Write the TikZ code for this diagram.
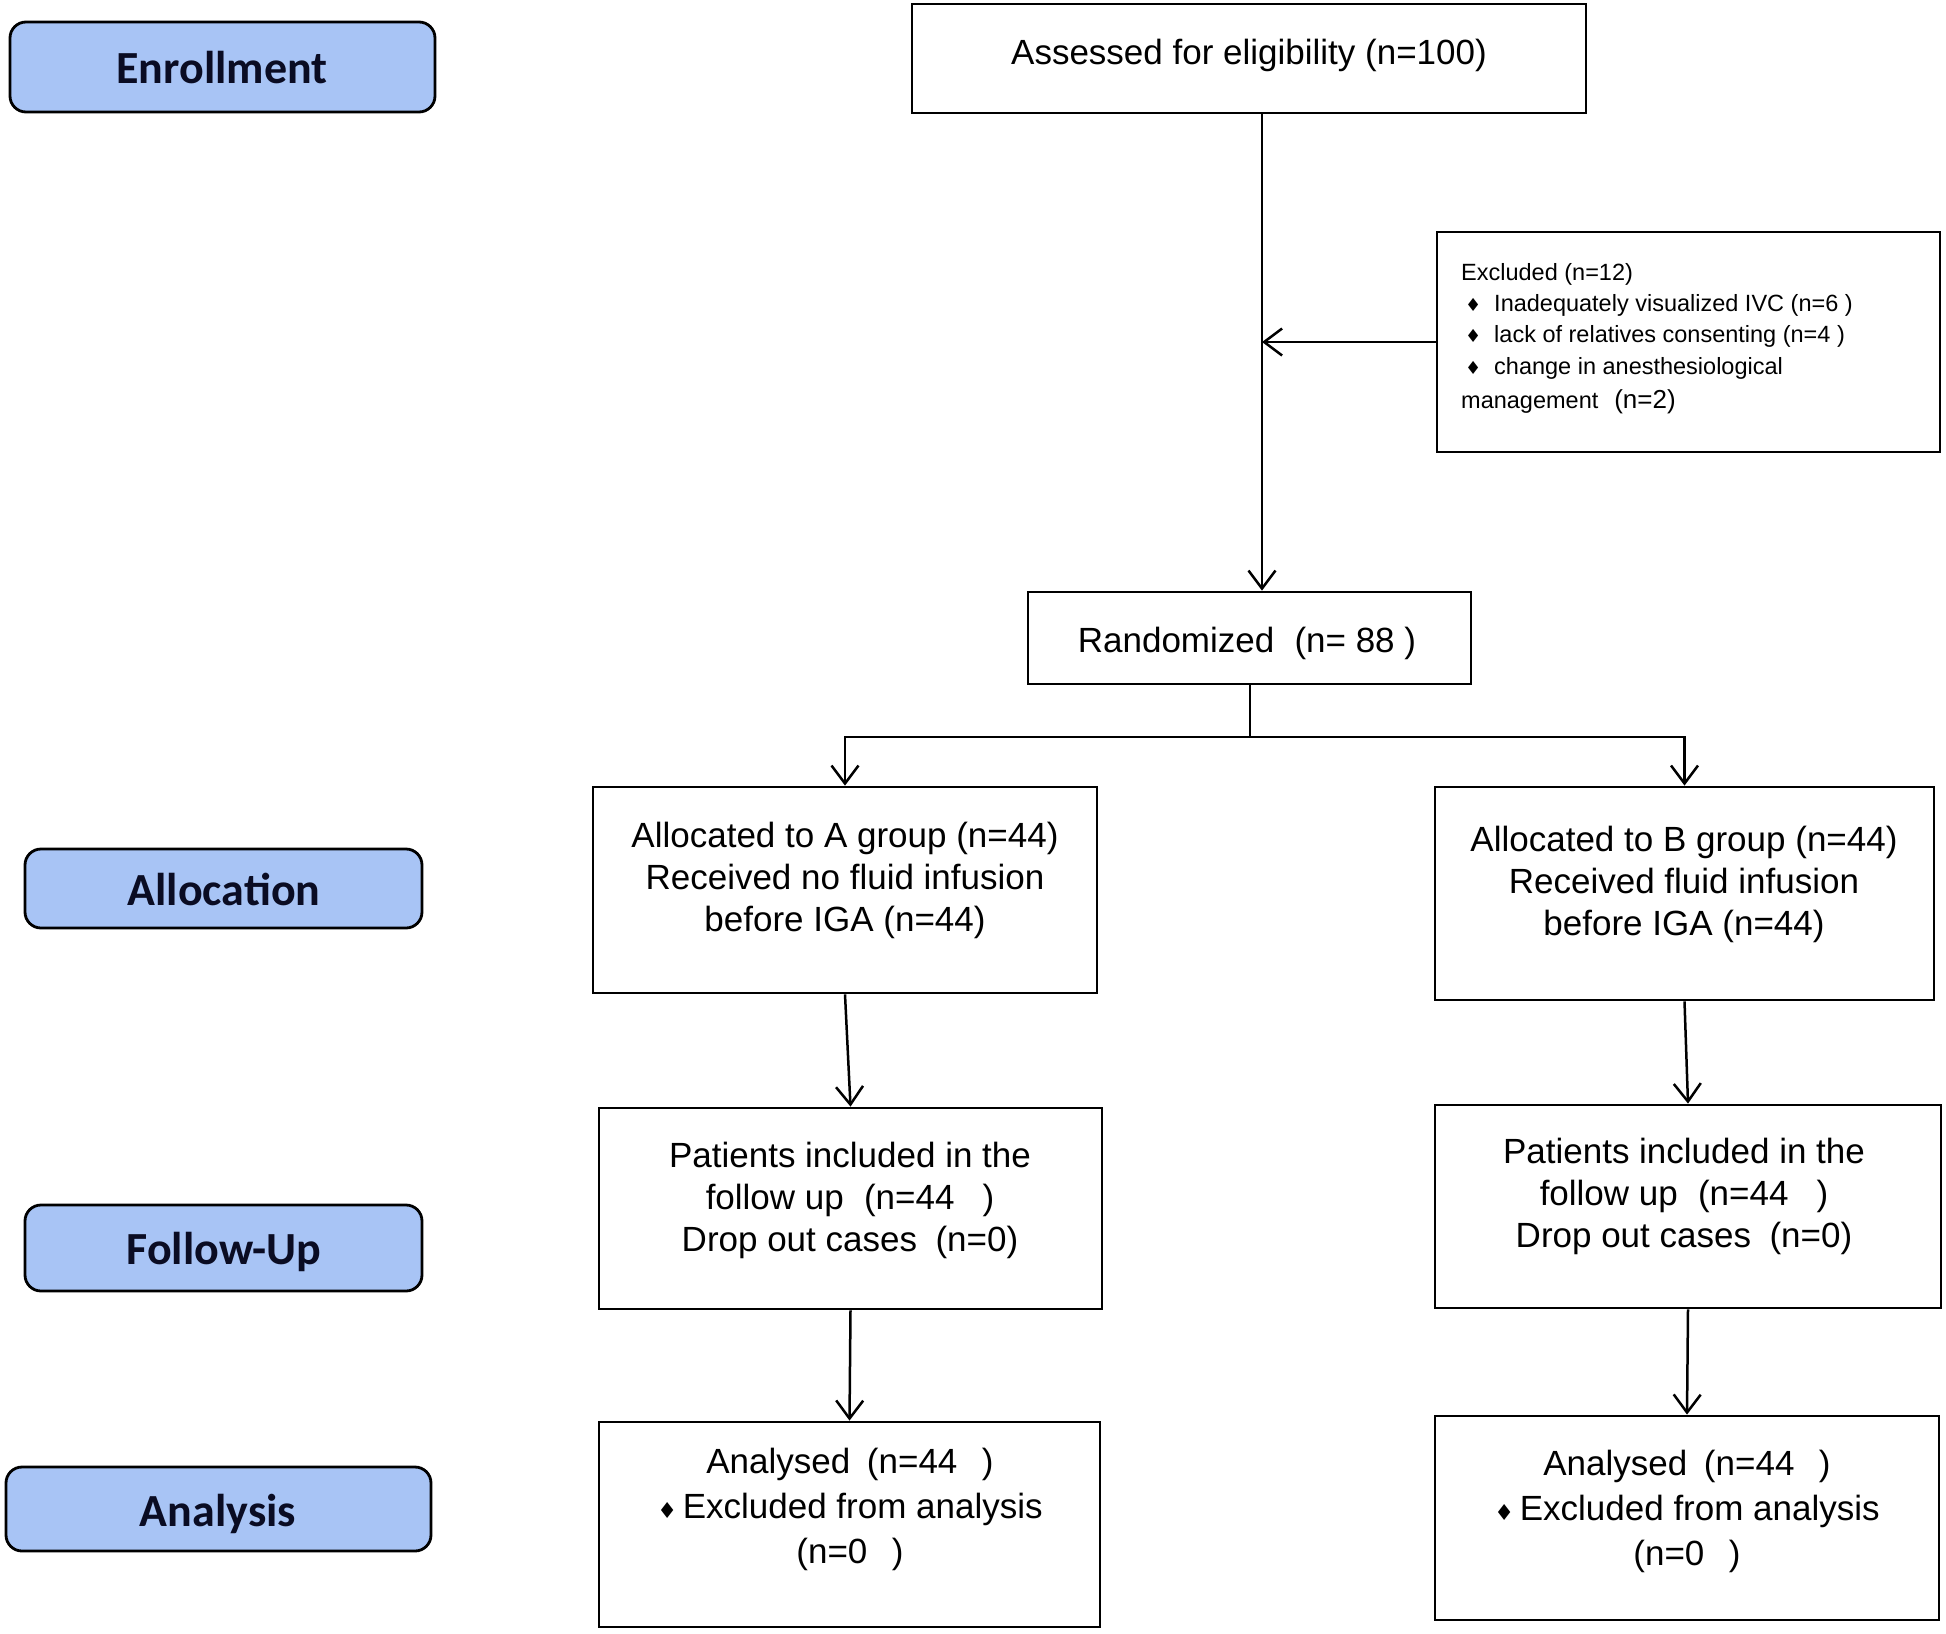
\documentclass[tikz,border=0pt]{standalone}
\usepackage{fontspec}
\setmainfont{Liberation Sans}
\newfontfamily\labfont{Carlito}
\newfontfamily\bulfont{DejaVu Sans}
\usetikzlibrary{arrows.meta,fit}
\definecolor{labblue}{RGB}{168,196,245}
\definecolor{labtext}{RGB}{10,12,35}
\newcommand{\smbul}{{\bulfont\fontsize{18pt}{18pt}\selectfont ♦}}
\newcommand{\bgbul}{{\bulfont\fontsize{22pt}{22pt}\selectfont ♦}}
\begin{document}
\begin{tikzpicture}[x=1pt,y=-1pt,
  box/.style={draw, line width=2.8pt, inner sep=0pt, rectangle},
  lab/.style={draw, line width=2.8pt, fill=labblue, rounded corners=16pt, inner sep=0pt},
  labt/.style={inner sep=0pt, font=\labfont\bfseries\fontsize{46pt}{50pt}\selectfont, text=labtext,
    text height=29.5pt, text depth=0pt},
  main/.style={font=\fontsize{35pt}{42pt}\selectfont, align=center, inner sep=0pt},
  mainan/.style={font=\fontsize{35pt}{45pt}\selectfont, align=center, inner sep=0pt},
  small/.style={font=\fontsize{23.5pt}{28pt}\selectfont, anchor=mid west, inner sep=0pt},
  arr/.style={line width=2.5pt, -{Straight Barb[length=18pt,width=27pt,line width=2.5pt]}},
  conn/.style={line width=2.5pt}
]
\useasboundingbox (0,0) rectangle (1946,1633);

% stage labels
\node[lab, fit={(10,22)(435,112)}] (enr) {};
\node[labt] (enrt) at (222,69) {Enrollment};
\node[lab, fit={(25,849)(422,928)}] (alo) {};
\node[labt] (alot) at (224,891) {Allocation};
\node[lab, fit={(25,1205)(422,1291)}] (fol) {};
\node[labt] (folt) at (224,1250) {Follow-Up};
\node[lab, fit={(6,1467)(431,1551)}] (ana) {};
\node[labt] (anat) at (218,1512) {Analysis};

% boxes
\node[box, fit={(912,4)(1586,113)}] (assess) {};
\node[main] (assesst) at (1249,55) {Assessed for eligibility (n=100)};

\node[box, fit={(1437,232)(1940,452)}] (excl) {};
\node[small] (ex1) at (1461,278) {Excluded (n=12)};
\node[small] (ex2) at (1461,309) {\makebox[33pt][l]{\hspace*{4pt}\smbul}Inadequately visualized IVC (n=6 )};
\node[small] (ex3) at (1461,340) {\makebox[33pt][l]{\hspace*{4pt}\smbul}lack of relatives consenting (n=4 )};
\node[small] (ex4) at (1461,372) {\makebox[33pt][l]{\hspace*{4pt}\smbul}change in anesthesiological};
\node[small] (ex5) at (1461,406) {management\hspace{0.4em} {\fontsize{26pt}{28pt}\selectfont(n=2)}};

\node[box, fit={(1028,592)(1471,684)}] (rand) {};
\node[main] (randt) at (1247,643) {Randomized\hspace{0.3em} (n= 88 )};

\node[box, fit={(593,787)(1097,993)}] (allocA) {};
\node[main] (allocAt) at (845,880) {Allocated to A group (n=44)\\Received no fluid infusion\\before IGA (n=44)};
\node[box, fit={(1435,787)(1934,1000)}] (allocB) {};
\node[main] (allocBt) at (1684,884) {Allocated to B group (n=44)\\Received fluid infusion\\before IGA (n=44)};

\node[box, fit={(599,1108)(1102,1309)}] (fuA) {};
\node[main] (fuAt) at (850,1200) {Patients included in the\\follow up\hspace{0.3em} (n=44\hspace{0.8em})\\Drop out cases\hspace{0.25em} (n=0)};
\node[box, fit={(1435,1105)(1941,1308)}] (fuB) {};
\node[main] (fuBt) at (1684,1196) {Patients included in the\\follow up\hspace{0.3em} (n=44\hspace{0.8em})\\Drop out cases\hspace{0.25em} (n=0)};

\node[box, fit={(599,1422)(1100,1627)}] (anA) {};
\node[mainan] (anAt) at (850,1509) {Analysed\hspace{0.2em} (n=44\hspace{0.7em})\\\bgbul\,Excluded from analysis\\(n=0\hspace{0.7em})};
\node[box, fit={(1435,1416)(1939,1620)}] (anB) {};
\node[mainan] (anBt) at (1687,1511) {Analysed\hspace{0.2em} (n=44\hspace{0.7em})\\\bgbul\,Excluded from analysis\\(n=0\hspace{0.7em})};

% connectors
\coordinate (vx) at (1262,0);
\draw[arr] (assess.south -| vx) -- (rand.north -| vx);
\coordinate (exin) at (1262,342);
\draw[arr] (excl.west) -- (exin);
\coordinate (split) at (1250,737);
\draw[conn] (rand.south -| split) -- (split);
\draw[arr] (split) -| (allocA.north);
\draw[arr] (split) -| (allocB.north);
\draw[arr] (allocA.south) -- (fuA.north);
\draw[arr] (allocB.south) -- (fuB.north);
\draw[arr] (fuA.south) -- (anA.north);
\draw[arr] (fuB.south) -- (anB.north);
\end{tikzpicture}
\end{document}
